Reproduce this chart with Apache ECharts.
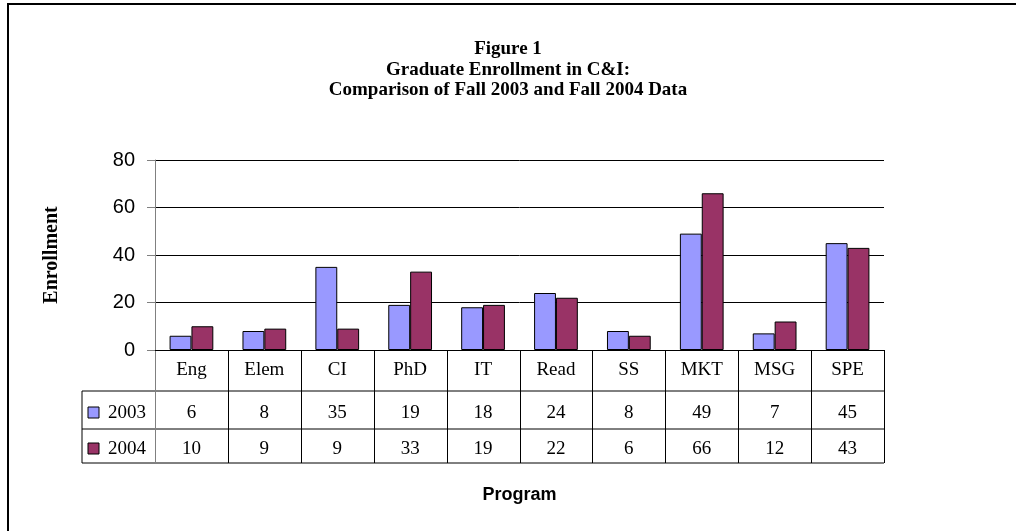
<!DOCTYPE html>
<html>
<head>
<meta charset="utf-8">
<script src="https://cdn.jsdelivr.net/npm/echarts@6/dist/echarts.min.js"></script>
<style>
  html, body { margin: 0; padding: 0; background: #fff; }
  #main { width: 1016px; height: 531px; }
</style>
</head>
<body>
<div id="main"></div>
<script>
const categories = ['Eng', 'Elem', 'CI', 'PhD', 'IT', 'Read', 'SS', 'MKT', 'MSG', 'SPE'];
const years = ['2003', '2004'];
const enroll2003 = [6, 8, 35, 19, 18, 24, 8, 49, 7, 45];
const enroll2004 = [10, 9, 9, 33, 19, 22, 6, 66, 12, 43];
const colors = ['#9999FF', '#993366'];

const serif = '"Liberation Serif", "Times New Roman", serif';
const sans = '"Liberation Sans", Arial, sans-serif';

const chart = echarts.init(document.getElementById('main'));

const option = {
    animation: false,
    backgroundColor: '#fff',
    title: {
        text: 'Figure 1\nGraduate Enrollment in C&I:\nComparison of Fall 2003 and Fall 2004 Data',
        left: 'center',
        top: 34,
        textStyle: {
            fontFamily: serif,
            fontWeight: 'bold',
            fontSize: 19,
            lineHeight: 20.5,
            color: '#000'
        }
    },
    grid: { left: 155, right: 132, top: 160, bottom: 181 },
    xAxis: {
        type: 'category',
        data: categories,
        axisLine: { lineStyle: { color: '#000', width: 1 } },
        axisTick: { show: false },
        axisLabel: { fontFamily: serif, fontSize: 19, color: '#000', margin: 11 },
        name: 'Program',
        nameLocation: 'middle',
        nameGap: 136,
        nameTextStyle: { fontFamily: sans, fontWeight: 'bold', fontSize: 18, color: '#000' }
    },
    yAxis: {
        type: 'value',
        min: 0,
        max: 80,
        interval: 20,
        axisLine: { show: true, lineStyle: { color: '#808080' } },
        axisTick: { show: true, length: 8, lineStyle: { color: '#808080' } },
        splitLine: { lineStyle: { color: '#000', width: 1 } },
        axisLabel: { fontFamily: sans, fontSize: 20, color: '#000', margin: 20 },
        name: 'Enrollment',
        nameLocation: 'middle',
        nameGap: 93,
        nameRotate: 90,
        nameTextStyle: { fontFamily: serif, fontWeight: 'bold', fontSize: 20, color: '#000' }
    },
    series: [
        {
            name: years[0], type: 'bar', data: enroll2003,
            barGap: '0%', barCategoryGap: '40%',
            itemStyle: { color: colors[0], borderColor: '#000', borderWidth: 1 }
        },
        {
            name: years[1], type: 'bar', data: enroll2004,
            barGap: '0%', barCategoryGap: '40%',
            itemStyle: { color: colors[1], borderColor: '#000', borderWidth: 1 }
        }
    ]
};
chart.setOption(option);

// data table under the axis, placed from the axis scale
const c0 = chart.convertToPixel({ xAxisIndex: 0 }, 0);
const band = chart.convertToPixel({ xAxisIndex: 0 }, 1) - c0;
const left = c0 - band / 2;
const right = left + band * categories.length;
const y0 = chart.convertToPixel({ yAxisIndex: 0 }, 0);
const legendLeft = left - 73;
const rowLines = [y0 + 41, y0 + 79, y0 + 113];
const rowData = [enroll2003, enroll2004];

const elements = [];
const line = (x1, y1, x2, y2, stroke) => ({
    type: 'line', silent: true,
    shape: { x1, y1, x2, y2 },
    style: { stroke: stroke || '#000', lineWidth: 1 }
});
rowLines.forEach(y => elements.push(line(legendLeft, y, right, y)));
elements.push(line(legendLeft, rowLines[0], legendLeft, rowLines[2]));
// column separators at category boundaries
for (let i = 0; i <= categories.length; i++) {
    const x = Math.round(left + band * i) + 0.5;
    elements.push(line(x, y0, x, rowLines[2], i === 0 ? '#808080' : '#000'));
}

rowData.forEach((vals, r) => {
    const top = rowLines[r];
    const bottom = rowLines[r + 1];
    const mid = (top + bottom) / 2 + 3;
    elements.push({
        type: 'rect', silent: true,
        shape: { x: legendLeft + 6, y: mid - 6, width: 11, height: 11 },
        style: { fill: colors[r], stroke: '#000', lineWidth: 1 }
    });
    elements.push({
        type: 'text', silent: true,
        style: {
            x: legendLeft + 26, y: mid, text: years[r],
            font: '19px ' + serif, fill: '#000', align: 'left', verticalAlign: 'middle'
        }
    });
    vals.forEach((v, i) => {
        elements.push({
            type: 'text', silent: true,
            style: {
                x: chart.convertToPixel({ xAxisIndex: 0 }, i), y: mid, text: String(v),
                font: '19px ' + serif, fill: '#000', align: 'center', verticalAlign: 'middle'
            }
        });
    });
});

// outer chart frame (top and left edges visible)
elements.push({
    type: 'rect', silent: true,
    shape: { x: 8, y: 4, width: 1100, height: 600 },
    style: { fill: 'none', stroke: '#000', lineWidth: 2 }
});

chart.setOption({ graphic: elements });
</script>
</body>
</html>
